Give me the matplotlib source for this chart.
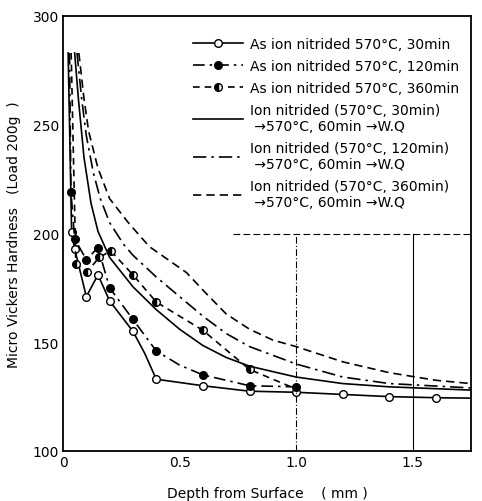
import numpy as np
import matplotlib.pyplot as plt

# as ion nitrided (with markers)
x_30 = [0.022, 0.037, 0.05, 0.1, 0.15, 0.2, 0.3, 0.35, 0.4, 0.6, 0.8, 1.0, 1.2, 1.4, 1.6, 1.75]
hv_30 = [283, 200.5, 193, 171, 181, 169, 155, 145, 133, 130, 127.5, 127, 126, 125, 124.5, 124.3]
mk_30 = [1, 2, 3, 4, 5, 6, 8, 9, 10, 11, 12, 13, 14]

x_120 = [0.028, 0.034, 0.05, 0.1, 0.15, 0.2, 0.3, 0.4, 0.5, 0.6, 0.8, 1.0]
hv_120 = [283, 219, 197.5, 188, 193.5, 175, 160.5, 146, 139.5, 135, 130, 129.5]
mk_120 = [1, 2, 3, 4, 5, 6, 7, 9, 10, 11]

x_360 = [0.035, 0.055, 0.105, 0.155, 0.205, 0.3, 0.4, 0.6, 0.8, 1.0]
hv_360 = [283, 186, 182.5, 189, 192, 181, 168.5, 155.5, 137.5, 128.5]
mk_360 = [1, 2, 3, 4, 5, 6, 7, 8]

# ion nitrided -> 570C 60min -> W.Q (no markers)
xq_30 = [0.05, 0.066, 0.09, 0.12, 0.15, 0.2, 0.3, 0.4, 0.5, 0.6, 0.7, 0.8, 1.0, 1.2, 1.4, 1.75]
hvq_30 = [283, 262, 235, 214, 201, 189, 175.5, 165, 156, 148.5, 143, 139, 134, 131, 129.5, 128]

xq_120 = [0.06, 0.08, 0.1, 0.13, 0.16, 0.2, 0.26, 0.3, 0.4, 0.5, 0.6, 0.7, 0.8, 1.0, 1.2, 1.4, 1.75]
hvq_120 = [283, 262, 245, 228, 216, 205, 195, 190, 180, 171, 162, 154, 148, 140, 134, 131, 129]

xq_360 = [0.068, 0.09, 0.11, 0.15, 0.2, 0.28, 0.37, 0.45, 0.53, 0.6, 0.7, 0.8, 0.9, 1.0, 1.2, 1.4, 1.6, 1.75]
hvq_360 = [283, 262, 247, 230, 216, 205, 194, 188, 182, 174, 163, 156, 151, 148, 141, 136, 132.5, 131]

labels = ['As ion nitrided 570°C, 30min',
          'As ion nitrided 570°C, 120min',
          'As ion nitrided 570°C, 360min',
          'Ion nitrided (570°C, 30min)\n →570°C, 60min →W.Q',
          'Ion nitrided (570°C, 120min)\n →570°C, 60min →W.Q',
          'Ion nitrided (570°C, 360min)\n →570°C, 60min →W.Q']

xticks = [0, 0.5, 1.0, 1.5]
xticklabels = ['0', '0.5', '1.0', '1.5']
yticks = [100, 150, 200, 250, 300]

fig = plt.figure(figsize=(4.82, 5.02), dpi=100)
ax = fig.add_axes([63/482, 1-452/502, (471-63)/482, (452-17)/502])

lw = 1.2
ms = 5.5
ax.plot(x_30, hv_30, '-', color='black', lw=lw, marker='o', ms=ms,
        mfc='white', mec='black', mew=1.0, markevery=mk_30, label=labels[0])
ax.plot(x_120, hv_120, color='black', lw=lw, dashes=[7, 3, 1.5, 3], marker='o', ms=ms,
        mfc='black', mec='black', markevery=mk_120, label=labels[1])
ax.plot(x_360, hv_360, color='black', lw=lw, dashes=[4, 3], marker='o', ms=ms,
        mfc='black', mfcalt='white', fillstyle='left', mec='black', mew=1.0,
        markevery=mk_360, label=labels[2])
ax.plot(xq_30, hvq_30, '-', color='black', lw=lw, label=labels[3])
ax.plot(xq_120, hvq_120, color='black', lw=lw, dashes=[8, 3, 1.5, 3], label=labels[4])
ax.plot(xq_360, hvq_360, color='black', lw=lw, dashes=[5, 3], label=labels[5])

# remains of the graph paper grid
ax.plot([1.0, 1.0], [100, 200], color='black', lw=0.8, dashes=[6, 2, 1, 2])
ax.plot([1.5, 1.5], [100, 200], color='black', lw=0.8)
ax.plot([0.73, 1.75], [200, 200], color='black', lw=0.8, dashes=[6, 3])

ax.set_xlim(0, 1.75)
ax.set_ylim(100, 300)
ax.set_xticks(xticks)
ax.set_xticklabels(xticklabels)
ax.set_yticks(yticks)
ax.tick_params(length=0, labelsize=10, pad=3)
for s in ax.spines.values():
    s.set_linewidth(1.3)

ax.set_xlabel('Depth from Surface    ( mm )', fontsize=10, labelpad=12)
ax.set_ylabel('Micro Vickers Hardness   (Load 200g  )', fontsize=10, labelpad=8)

leg = ax.legend(loc='upper right', bbox_to_anchor=(0.995, 0.975), frameon=False,
                fontsize=10, handlelength=3.6, handletextpad=0.5,
                labelspacing=0.58, borderaxespad=0.3)

fig.savefig('out.png', dpi=100)
